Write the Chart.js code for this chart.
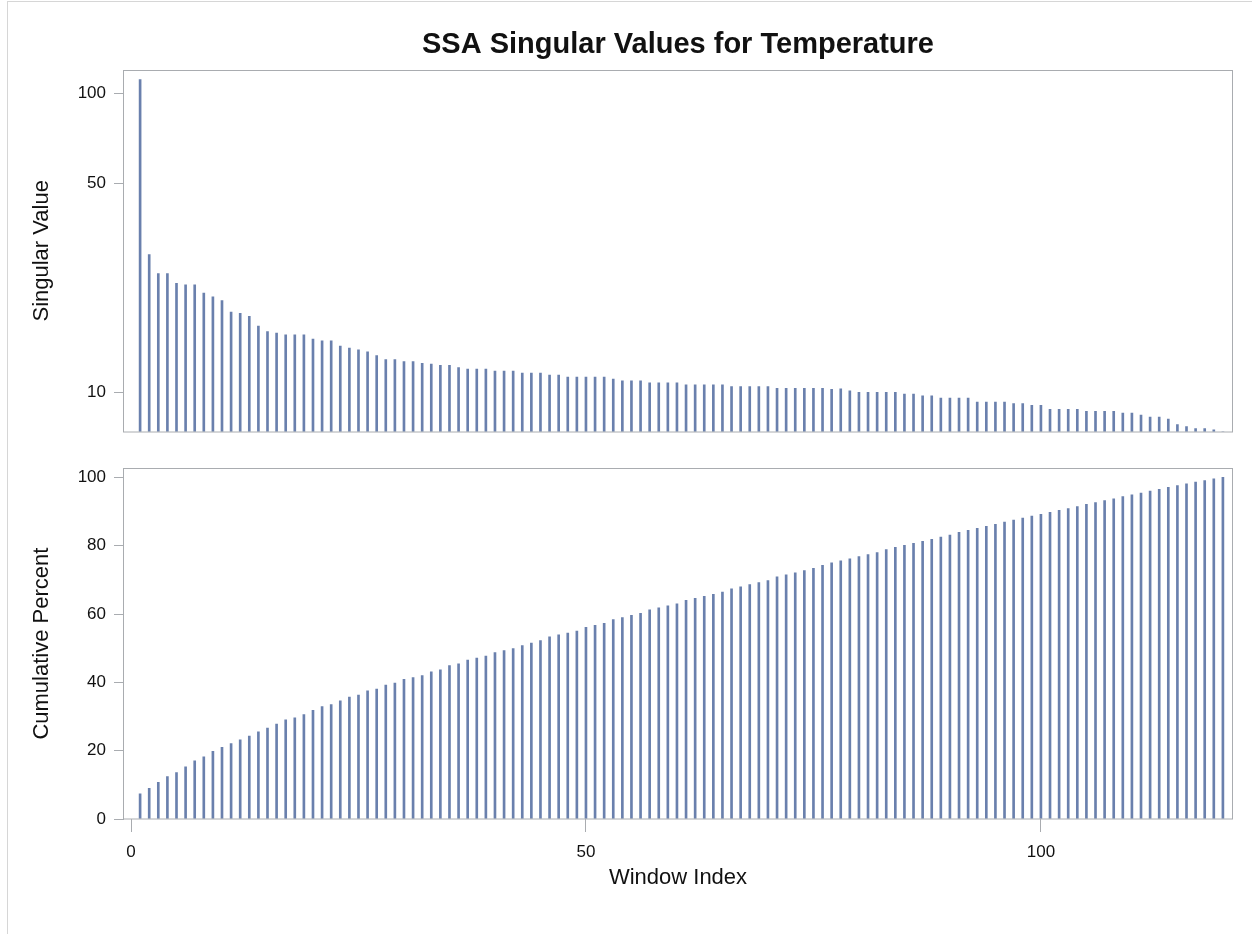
<!DOCTYPE html>
<html><head><meta charset="utf-8">
<script src="https://cdn.jsdelivr.net/npm/chart.js@4/dist/chart.umd.min.js"></script>
<style>
html,body{margin:0;padding:0;background:#fff;}
body{width:1252px;height:934px;position:relative;overflow:hidden;}
#frame{position:absolute;left:7px;top:1px;width:1250px;height:940px;border-left:1px solid #d6d6d6;border-top:1px solid #d6d6d6;}
#c1{position:absolute;left:0;top:0;}
#c2{position:absolute;left:0;top:450px;}
</style></head>
<body>
<div id="frame"></div>
<canvas id="c1" width="1252" height="450"></canvas>
<canvas id="c2" width="1252" height="484"></canvas>
<script>
const windowIndex = [1,2,3,4,5,6,7,8,9,10,11,12,13,14,15,16,17,18,19,20,
21,22,23,24,25,26,27,28,29,30,31,32,33,34,35,36,37,38,39,40,
41,42,43,44,45,46,47,48,49,50,51,52,53,54,55,56,57,58,59,60,
61,62,63,64,65,66,67,68,69,70,71,72,73,74,75,76,77,78,79,80,
81,82,83,84,85,86,87,88,89,90,91,92,93,94,95,96,97,98,99,100,
101,102,103,104,105,106,107,108,109,110,111,112,113,114,115,116,117,118,119,120];

const singularValues = [111.1, 28.9, 25.0, 25.0, 23.2, 22.9, 22.9, 21.5, 20.9, 20.3,
 18.6, 18.4, 18.0, 16.7, 16.0, 15.8, 15.6, 15.6, 15.6, 15.1,
 14.9, 14.9, 14.3, 14.1, 13.9, 13.7, 13.3, 12.9, 12.9, 12.7,
 12.7, 12.52, 12.46, 12.33, 12.33, 12.12, 11.98, 11.98, 11.98, 11.8,
 11.8, 11.8, 11.62, 11.62, 11.62, 11.45, 11.45, 11.28, 11.28, 11.28,
 11.28, 11.28, 11.11, 10.95, 10.95, 10.95, 10.78, 10.78, 10.78, 10.78,
 10.63, 10.63, 10.63, 10.63, 10.63, 10.48, 10.48, 10.48, 10.48, 10.48,
 10.33, 10.33, 10.33, 10.33, 10.33, 10.33, 10.25, 10.3, 10.15, 10.02,
 10.02, 10.02, 10.02, 10.02, 9.9, 9.9, 9.75, 9.75, 9.6, 9.6,
 9.6, 9.6, 9.3, 9.3, 9.3, 9.3, 9.2, 9.2, 9.07, 9.07,
 8.8, 8.8, 8.8, 8.8, 8.67, 8.67, 8.67, 8.67, 8.54, 8.54,
 8.41, 8.28, 8.28, 8.16, 7.82, 7.70, 7.59, 7.59, 7.51, 6.6];

const cumulativePercent = [7.4, 9.0, 10.7, 12.4, 13.6, 15.3, 17.0, 18.2, 19.8, 21.0,
 22.1, 23.2, 24.3, 25.5, 26.6, 27.8, 29.0, 29.6, 30.6, 31.8,
 32.9, 33.5, 34.6, 35.7, 36.3, 37.5, 38.0, 39.2, 39.8, 40.9,
 41.4, 42.0, 43.1, 43.7, 44.9, 45.4, 46.5, 47.1, 47.7, 48.7,
 49.3, 49.9, 50.8, 51.5, 52.2, 53.3, 53.9, 54.4, 55.0, 56.1,
 56.7, 57.3, 58.4, 59.0, 59.6, 60.2, 61.2, 61.8, 62.4, 63.0,
 64.0, 64.6, 65.2, 65.8, 66.4, 67.4, 68.0, 68.6, 69.2, 69.8,
 70.9, 71.5, 72.1, 72.7, 73.4, 74.3, 75.0, 75.6, 76.2, 76.8,
 77.4, 78.0, 78.9, 79.5, 80.1, 80.7, 81.3, 81.9, 82.5, 83.1,
 83.9, 84.5, 85.1, 85.7, 86.3, 86.9, 87.5, 88.1, 88.7, 89.2,
 89.8, 90.4, 90.9, 91.5, 92.1, 92.6, 93.2, 93.7, 94.4, 94.9,
 95.4, 96.0, 96.5, 97.1, 97.6, 98.1, 98.6, 99.1, 99.6, 100.0];

const svTicks = [10, 50, 100];
const cumTicks = [0, 20, 40, 60, 80, 100];
const xTicks = [0, 50, 100];

const FONT = '"Liberation Sans", Arial, sans-serif';
const BAR = '#6a80ad';
const LINE = '#a9acb0';
const TEXT = '#111';

const framePlugin = {
  id: 'frame',
  afterDatasetsDraw(chart) {
    const a = chart.chartArea, ctx = chart.ctx;
    ctx.save();
    ctx.strokeStyle = LINE;
    ctx.lineWidth = 1;
    ctx.strokeRect(Math.round(a.left) - 0.5, Math.round(a.top) + 0.5,
                   Math.round(a.right - a.left) + 1, Math.round(a.bottom - a.top) - 0.5);
    ctx.restore();
  }
};

const xScaleBase = { type: 'linear', min: -0.77, max: 121.0, offset: false,
  afterBuildTicks: s => { s.ticks = xTicks.map(v => ({ value: v })); } };

function yScale(extra) {
  return Object.assign({
    position: 'left',
    afterFit: s => { s.width = 104; },
    border: { display: false },
    grid: { drawOnChartArea: false, drawTicks: true, tickLength: 10, color: LINE },
    ticks: { font: { family: FONT, size: 17 }, color: TEXT, padding: 8 },
  }, extra);
}

new Chart(document.getElementById('c1'), {
  type: 'bar',
  data: {
    datasets: [{
      data: windowIndex.map((x, i) => ({ x: x, y: singularValues[i] })),
      backgroundColor: BAR, barThickness: 2, clip: 0
    }]
  },
  options: {
    responsive: false, animation: false, events: [],
    layout: { padding: { left: 20, right: 20, top: 10, bottom: 10 } },
    plugins: {
      legend: { display: false }, tooltip: { enabled: false },
      title: { display: true, text: 'SSA Singular Values for Temperature', fullSize: false,
               color: TEXT, font: { family: FONT, size: 29, weight: 'bold' },
               padding: { top: 18, bottom: 7 } }
    },
    scales: {
      x: Object.assign({ display: false, grid: { offset: false } }, xScaleBase),
      y: yScale({
        type: 'logarithmic', min: 7.4, max: 119.8,
        afterBuildTicks: s => { s.ticks = svTicks.map(v => ({ value: v })); },
        ticks: { font: { family: FONT, size: 17 }, color: TEXT, padding: 8, callback: v => String(v) },
        title: { display: true, text: 'Singular Value', color: TEXT, font: { family: FONT, size: 22 }, padding: { top: 9 } }
      })
    }
  },
  plugins: [framePlugin]
});

new Chart(document.getElementById('c2'), {
  type: 'bar',
  data: {
    datasets: [{
      data: windowIndex.map((x, i) => ({ x: x, y: cumulativePercent[i] })),
      backgroundColor: BAR, barThickness: 2, clip: 0
    }]
  },
  options: {
    responsive: false, animation: false, events: [],
    layout: { padding: { left: 20, right: 20, top: 16, bottom: 42.8 } },
    plugins: { legend: { display: false }, tooltip: { enabled: false } },
    scales: {
      x: Object.assign({
        position: 'bottom',
        afterFit: s => { s.height = 72.2; },
        border: { display: false },
        grid: { offset: false, drawOnChartArea: false, drawTicks: true, tickLength: 13, color: LINE },
        ticks: { font: { family: FONT, size: 17 }, color: TEXT, padding: 10, maxRotation: 0 },
        title: { display: true, text: 'Window Index', color: TEXT, font: { family: FONT, size: 22 }, padding: { bottom: 0 } }
      }, xScaleBase),
      y: yScale({
        type: 'linear', min: 0, max: 102.7,
        afterBuildTicks: s => { s.ticks = cumTicks.map(v => ({ value: v })); },
        title: { display: true, text: 'Cumulative Percent', color: TEXT, font: { family: FONT, size: 22 }, padding: { top: 9 } }
      })
    }
  },
  plugins: [framePlugin]
});
</script>
</body></html>
